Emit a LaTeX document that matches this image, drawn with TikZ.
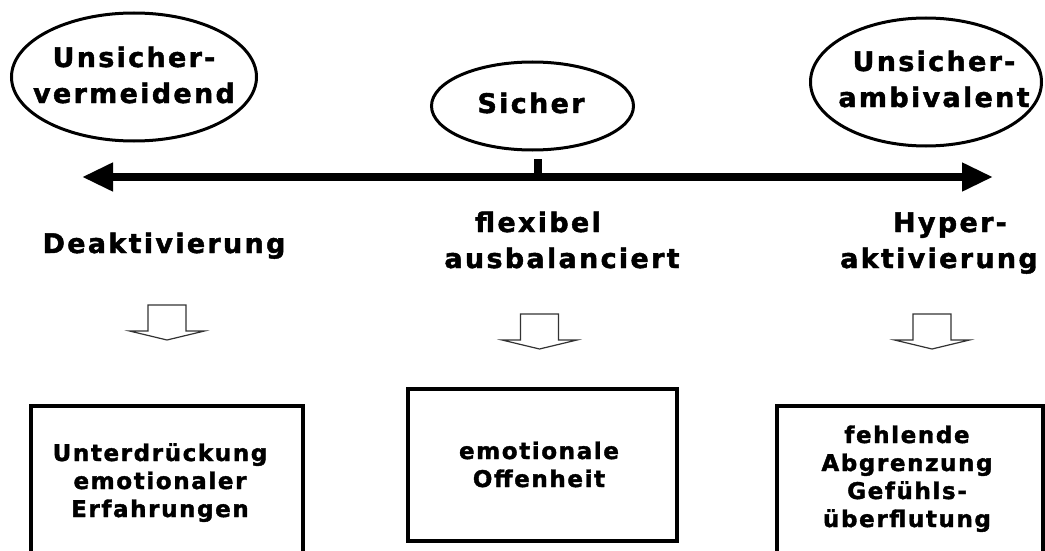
\documentclass[tikz,border=0pt]{standalone}
\usepackage{fontspec}
\newfontfamily\vfa{DejaVu Sans}[LetterSpace=8.5, BoldFeatures={FakeBold=1.6}]
\newfontfamily\vfb{DejaVu Sans}[LetterSpace=7, BoldFeatures={FakeBold=1.6}]
\usetikzlibrary{arrows.meta,shapes.geometric}
\begin{document}
\begin{tikzpicture}[x=1pt,y=-1pt,
  oval/.style={draw, ellipse, line width=3pt, inner sep=0pt},
  box/.style={draw, rectangle, line width=4pt, inner sep=0pt, anchor=north west},
  big/.style={inner sep=0pt, align=center, anchor=base, font=\vfa\bfseries\fontsize{27}{36}\selectfont},
  small/.style={inner sep=0pt, align=center, anchor=base, font=\vfb\bfseries\fontsize{23}{28}\selectfont},
  hollow/.pic={\draw[line width=1.2pt, draw=black!80, line join=miter] (-19,0) -- (19,0) -- (19,26) -- (37.5,26) -- (0,35) -- (-37.5,26) -- (-19,26) -- cycle;}
]
\useasboundingbox (0,0) rectangle (1045,551);
\clip (0,0) rectangle (1045,551);

% ellipses
\node[oval, minimum width=245pt, minimum height=128pt] (uv) at (134,77) {};
\node[big] (uvt) at (134,103) {Unsicher-\\vermeidend};
\node[oval, minimum width=202pt, minimum height=88pt] (si) at (532.5,106) {};
\node[big] (sit) at (531,113) {Sicher};
\node[oval, minimum width=231pt, minimum height=128pt] (ua) at (926,82) {};
\node[big] (uat) at (934,107) {Unsicher-\\ambivalent};

% main arrow
\coordinate (aL) at (82,177);
\coordinate (aR) at (993,177);
\draw[line width=7.5pt, {Triangle[length=31pt,width=27pt]}-{Triangle[length=31pt,width=27pt]}] (aL) -- (aR);
\coordinate (tkT) at (537.5,159);
\coordinate (tkB) at (537.5,177);
\draw[line width=8pt] (tkT) -- (tkB);

% labels
\node[big] (l1) at (164,253) {Deaktivierung};
\node[big] (l2) at (562,268) {flexibel\rule{48pt}{0pt}\\ausbalanciert};
\node[big] (l3) at (939,268) {\rule{22pt}{0pt}Hyper-\\aktivierung};

% hollow arrows
\pic (h1) at (167,305) {hollow};
\pic (h2) at (539.5,314) {hollow};
\pic (h3) at (932,314) {hollow};

% boxes
\node[box, minimum width=272pt, minimum height=200pt] (b1) at (29,404) {};
\node[small] (b1t) at (160,517) {Unterdrückung\\emotionaler\\Erfahrungen};
\node[box, minimum width=269pt, minimum height=152pt] (b2) at (406,387) {};
\node[small] (b2t) at (539,487) {emotionale\\Offenheit};
\node[box, minimum width=266pt, minimum height=200pt] (b3) at (775,404) {};
\node[small] (b3t) at (907,527) {fehlende\\Abgrenzung\\Gefühls-\\überflutung};
\end{tikzpicture}
\end{document}
